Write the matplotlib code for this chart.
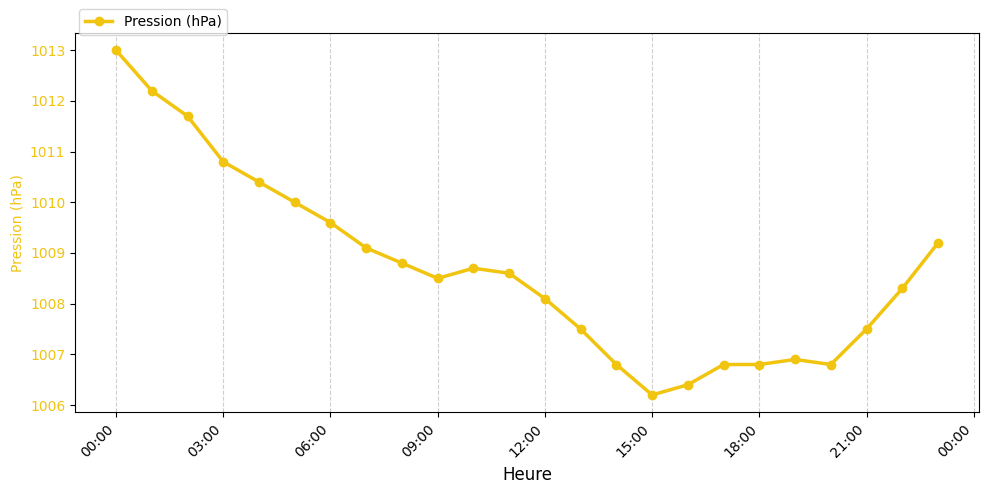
import matplotlib
matplotlib.use("Agg")
import matplotlib.pyplot as plt
import matplotlib.dates as mdates
import pandas as pd

hours = pd.date_range("2024-01-01 00:00", periods=24, freq="h")
pression = [1013.0, 1012.2, 1011.7, 1010.8, 1010.4, 1010.0, 1009.6, 1009.1, 1008.8, 1008.5,
            1008.7, 1008.6, 1008.1, 1007.5, 1006.8, 1006.2, 1006.4, 1006.8, 1006.8, 1006.9,
            1006.8, 1007.5, 1008.3, 1009.2]
color = "#f1c40f"

fig, ax = plt.subplots(figsize=(9.89, 4.93), dpi=100)
ax.plot(hours, pression, color=color, marker="o", linewidth=2.5, label="Pression (hPa)")
ax.set_ylabel("Pression (hPa)", color=color)
ax.tick_params(axis="y", labelcolor=color)
ax.set_xlabel("Heure", fontsize=12)
ax.xaxis.set_major_locator(mdates.HourLocator(interval=3))
ax.xaxis.set_major_formatter(mdates.DateFormatter("%H:%M"))
plt.setp(ax.get_xticklabels(), rotation=45, ha="right")
ax.grid(axis="x", linestyle="--", alpha=0.6)
ax.legend(loc="lower left", bbox_to_anchor=(0, 0.985), borderaxespad=0.3)
fig.subplots_adjust(left=0.0758, right=0.99, top=0.933, bottom=0.164)
fig.savefig("out.png")
